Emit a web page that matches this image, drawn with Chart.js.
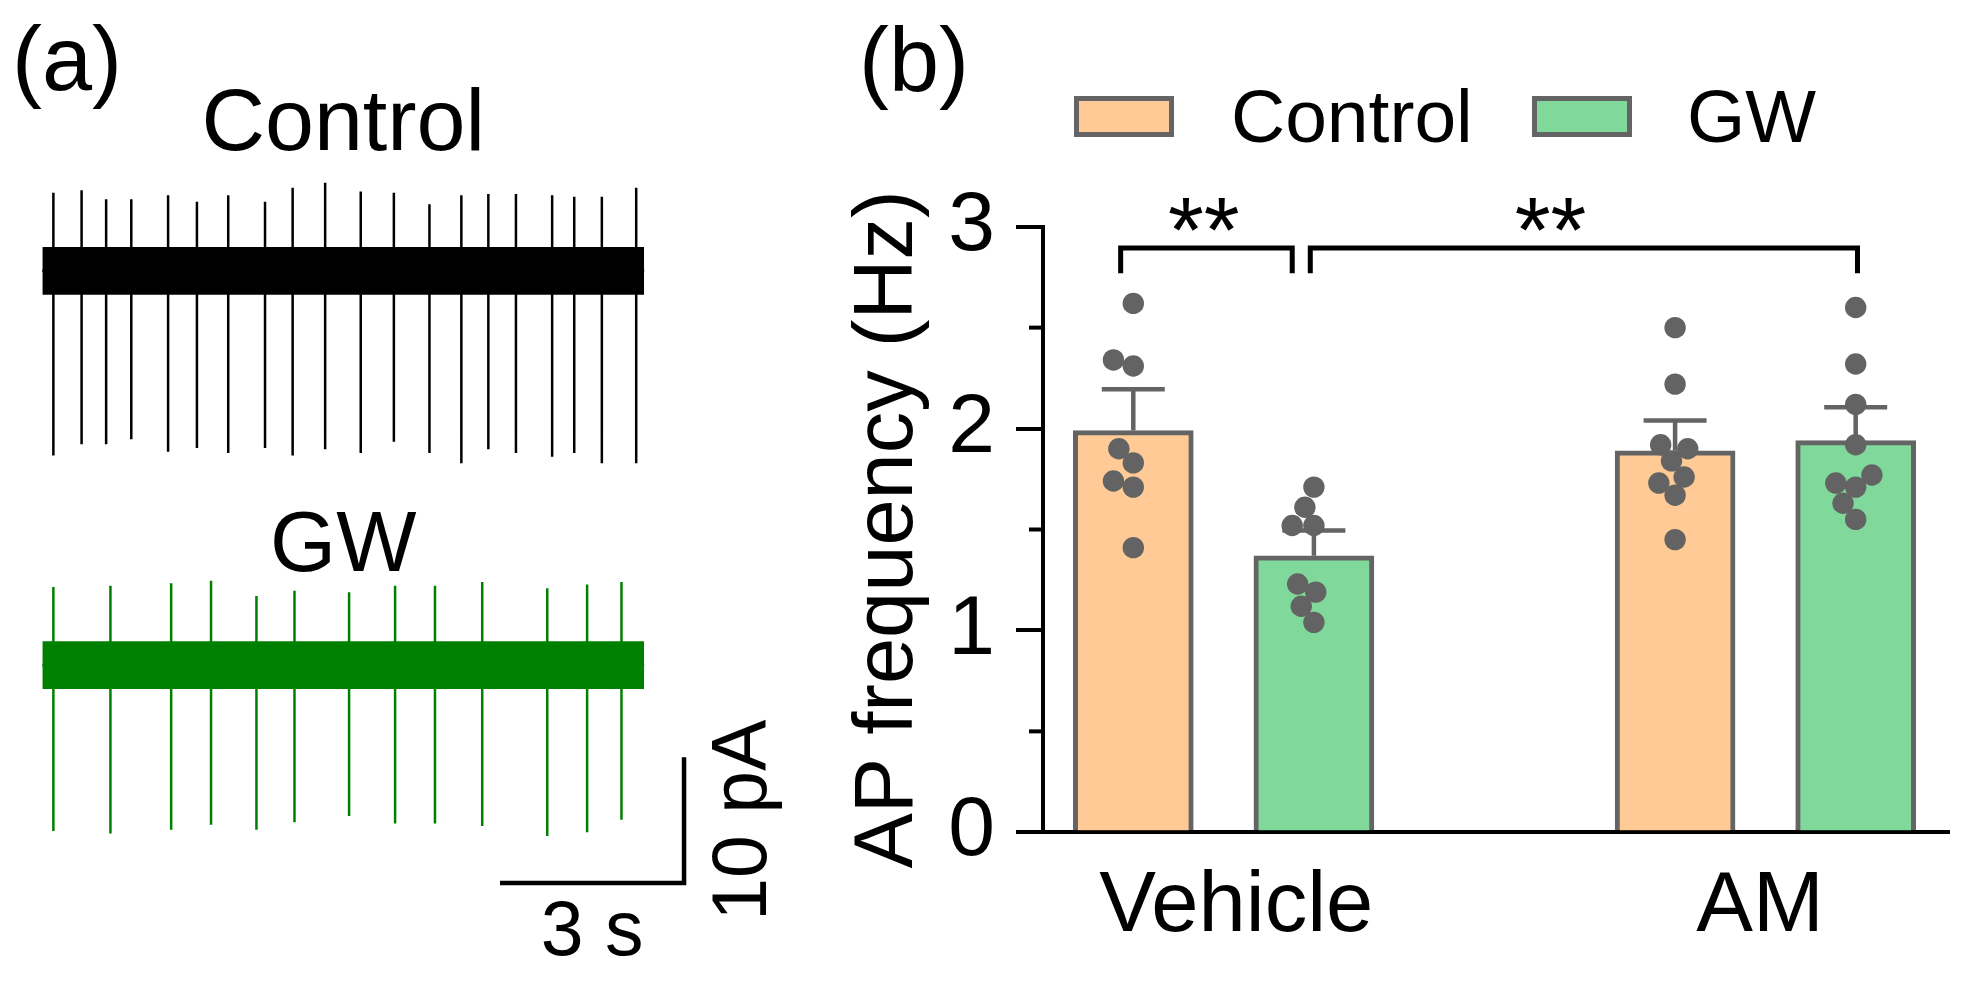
<!DOCTYPE html>
<html>
<head>
<meta charset="utf-8">
<script src="https://cdn.jsdelivr.net/npm/chart.js@4.4.0/dist/chart.umd.min.js"></script>
<style>
  html, body { margin:0; padding:0; background:#fff; }
  #wrap { position:relative; width:1964px; height:995px; overflow:hidden; }
  canvas { position:absolute; }
</style>
</head>
<body>
<div id="wrap">
  <canvas id="ctrl" width="800" height="480" style="left:0;top:0;width:800px;height:480px"></canvas>
  <canvas id="gw" width="800" height="515" style="left:0;top:480px;width:800px;height:515px"></canvas>
  <canvas id="bars" width="1164" height="995" style="left:800px;top:0;width:1164px;height:995px"></canvas>
</div>
<script>
'use strict';

/* ---- panel (a): spike trains (s, pA) ---- */
const TRACE_LEN = 9.81;
const NOISE_PA  = 1.9;   // half height of the noise band

const CTRL_SPIKE_T   = [0.18,0.64,1.04,1.45,2.05,2.52,3.03,3.63,4.08,4.61,5.19,5.73,6.31,6.83,7.27,7.72,8.31,8.67,9.12,9.68];
const CTRL_SPIKE_TOP = [6.2,6.4,5.7,5.7,6.0,5.5,6.0,5.5,6.6,7.0,6.3,6.2,5.3,6.0,6.1,6.1,6.0,5.9,5.9,6.6];
const CTRL_SPIKE_BOT = [-14.7,-13.8,-13.8,-13.4,-14.4,-14.1,-14.5,-14.1,-14.7,-14.2,-14.5,-13.6,-14.5,-15.3,-14.2,-14.5,-14.8,-14.5,-15.3,-15.3];

const GW_SPIKE_T   = [0.18,1.11,2.10,2.75,3.49,4.11,5.00,5.75,6.40,7.17,8.23,8.88,9.44];
const GW_SPIKE_TOP = [6.2,6.3,6.5,6.7,5.5,5.9,5.8,6.3,6.3,6.6,6.1,6.4,6.6];
const GW_SPIKE_BOT = [-13.2,-13.4,-13.1,-12.7,-13.1,-12.5,-12.0,-12.6,-12.6,-12.8,-13.6,-13.3,-12.3];

const SCALE_S  = 3;    // s
const SCALE_PA = 10;   // pA

/* ---- panel (b): AP frequency (Hz) ---- */
const GROUPS  = ['Vehicle', 'AM'];
const SERIES  = ['Control', 'GW'];
const CTRL_X  = [0, 3];
const GW_X    = [1, 4];
const CTRL_MEAN = [1.99, 1.89];
const CTRL_SEM  = [0.205, 0.15];
const GW_MEAN   = [1.37, 1.94];
const GW_SEM    = [0.125, 0.165];

const CTRL_VEH_PTS = [2.62,2.34,2.31,1.90,1.83,1.74,1.71,1.41];
const CTRL_VEH_JIT = [0,-0.11,0,-0.08,0,-0.11,0,0];
const GW_VEH_PTS   = [1.71,1.61,1.52,1.52,1.23,1.19,1.12,1.04];
const GW_VEH_JIT   = [0,-0.05,-0.12,0,-0.09,0.01,-0.07,0];
const CTRL_AM_PTS  = [2.50,2.22,1.92,1.90,1.84,1.76,1.73,1.67,1.45];
const CTRL_AM_JIT  = [0,0,-0.08,0.07,-0.02,0.05,-0.09,0,0];
const GW_AM_PTS    = [2.60,2.32,2.12,1.92,1.77,1.73,1.71,1.63,1.55];
const GW_AM_JIT    = [0,0,0,0,0.09,-0.11,0,-0.07,0];

const SIG = [
  { from:-0.07, to:0.88, at:0.39, text:'**' },
  { from: 0.98, to:4.01, at:2.31, text:'**' },
];
const SIG_Y   = 2.894;
const SIG_LEG = 2.77;

const ORANGE = '#FFCA96';
const GREEN  = '#80D89B';
const EDGE   = '#646464';
const FONT   = '"Liberation Sans", Arial, sans-serif';

Chart.defaults.font.family = FONT;
Chart.defaults.color = '#000';

/* ================= panel (a) ================= */

function spikeTrain(ts, tops, bots) {
  const pts = [{ x:0, y:0 }];
  ts.forEach((t, i) => {
    pts.push({ x:t, y:0 }, { x:t, y:tops[i] }, { x:t, y:bots[i] }, { x:t, y:0 });
  });
  pts.push({ x:TRACE_LEN, y:0 });
  return pts;
}

function traceSets(ts, tops, bots, colour) {
  return [
    { data:[{ x:0, y:NOISE_PA }, { x:TRACE_LEN, y:NOISE_PA }], fill:{ value:-NOISE_PA },
      backgroundColor:colour, borderWidth:0, pointRadius:0 },
    { data:spikeTrain(ts, tops, bots), borderColor:colour, borderWidth:2.5,
      borderJoinStyle:'bevel', pointRadius:0, tension:0, fill:false },
  ];
}

function traceOpts(yMin, yMax) {
  return {
    responsive:false, animation:false, devicePixelRatio:1, events:[],
    layout:{ padding:0 },
    plugins:{ legend:{ display:false }, tooltip:{ enabled:false } },
    scales:{
      x:{ type:'linear', min:-0.69, max:12.35, display:false },
      y:{ type:'linear', min:yMin, max:yMax, display:false },
    },
  };
}

const ctrlText = {
  id:'ctrlText',
  afterDraw(chart) {
    const { ctx, scales:{ x } } = chart;
    ctx.save();
    ctx.fillStyle = '#000';
    ctx.textBaseline = 'alphabetic';
    ctx.font = `90px ${FONT}`;
    ctx.textAlign = 'left';
    ctx.fillText('(a)', 12, 90);
    ctx.font = `88px ${FONT}`;
    ctx.textAlign = 'center';
    ctx.fillText('Control', x.getPixelForValue(TRACE_LEN / 2), 150);
    ctx.restore();
  }
};

new Chart(document.getElementById('ctrl'), {
  type:'line',
  data:{ datasets:traceSets(CTRL_SPIKE_T, CTRL_SPIKE_TOP, CTRL_SPIKE_BOT, '#000') },
  options:traceOpts(-16.64, 21.54),
  plugins:[ctrlText],
});

const barX0 = 7.46, barY0 = -17.34;   // corner of the scale bar
const gwText = {
  id:'gwText',
  afterDraw(chart) {
    const { ctx, scales:{ x, y } } = chart;
    ctx.save();
    ctx.fillStyle = '#000';
    ctx.textBaseline = 'alphabetic';
    ctx.font = `85px ${FONT}`;
    ctx.textAlign = 'center';
    ctx.fillText('GW', x.getPixelForValue(TRACE_LEN / 2), 91);

    ctx.font = `77px ${FONT}`;
    const bx = x.getPixelForValue(barX0 + SCALE_S / 2);
    const by = y.getPixelForValue(barY0);
    ctx.fillText(SCALE_S + ' s', bx, by + 72);

    const vx = x.getPixelForValue(barX0 + SCALE_S);
    const vy = y.getPixelForValue(barY0 + SCALE_PA / 2);
    ctx.translate(vx + 82, vy);
    ctx.rotate(-Math.PI / 2);
    ctx.fillText(SCALE_PA + ' pA', 0, 0);
    ctx.restore();
  }
};

new Chart(document.getElementById('gw'), {
  type:'line',
  data:{ datasets:[
    ...traceSets(GW_SPIKE_T, GW_SPIKE_TOP, GW_SPIKE_BOT, '#008000'),
    { data:[{ x:barX0, y:barY0 }, { x:barX0 + SCALE_S, y:barY0 }, { x:barX0 + SCALE_S, y:barY0 + SCALE_PA }],
      borderColor:'#000', borderWidth:4.5, borderJoinStyle:'miter', pointRadius:0, fill:false },
  ] },
  options:traceOpts(-26.25, 14.72),
  plugins:[gwText],
});

/* ================= panel (b) ================= */

function dots(base, pts, jit) {
  return pts.map((v, i) => ({ x:base + jit[i], y:v }));
}

const errorBars = {
  id:'errorBars',
  afterDatasetDraw(chart, args) {
    const ds = chart.data.datasets[args.index];
    if (!ds.sem) return;
    const { ctx, scales:{ x, y } } = chart;
    ctx.save();
    ctx.strokeStyle = EDGE;
    ctx.lineWidth = 4.5;
    ds.data.forEach((p, i) => {
      const px = x.getPixelForValue(p.x);
      const base = y.getPixelForValue(p.y);
      const top = y.getPixelForValue(p.y + ds.sem[i]);
      ctx.beginPath();
      ctx.moveTo(px, base); ctx.lineTo(px, top);
      ctx.moveTo(px - 31.5, top); ctx.lineTo(px + 31.5, top);
      ctx.stroke();
    });
    ctx.restore();
  }
};

const extras = {
  id:'extras',
  afterDraw(chart) {
    const { ctx, chartArea, scales:{ x, y } } = chart;
    ctx.save();

    // minor y ticks
    ctx.strokeStyle = '#000';
    ctx.lineWidth = 4;
    [0.5, 1.5, 2.5].forEach(v => {
      const py = y.getPixelForValue(v);
      ctx.beginPath(); ctx.moveTo(chartArea.left - 14, py); ctx.lineTo(chartArea.left, py); ctx.stroke();
    });

    // significance brackets
    ctx.lineWidth = 5;
    const yl = y.getPixelForValue(SIG_Y), yb = y.getPixelForValue(SIG_LEG);
    ctx.font = `92px ${FONT}`;
    ctx.textAlign = 'center';
    ctx.textBaseline = 'alphabetic';
    ctx.fillStyle = '#000';
    SIG.forEach(s => {
      const x1 = x.getPixelForValue(s.from), x2 = x.getPixelForValue(s.to);
      ctx.beginPath();
      ctx.moveTo(x1, yb); ctx.lineTo(x1, yl); ctx.lineTo(x2, yl); ctx.lineTo(x2, yb);
      ctx.stroke();
      ctx.fillText(s.text, x.getPixelForValue(s.at), yl + 14);
    });

    // legend
    ctx.font = `75px ${FONT}`;
    ctx.textAlign = 'left';
    const items = [
      { box:274, text:431, ds:chart.data.datasets[0] },
      { box:732, text:887, ds:chart.data.datasets[1] },
    ];
    items.forEach(it => {
      ctx.fillStyle = it.ds.backgroundColor;
      ctx.fillRect(it.box, 96, 100, 41);
      ctx.strokeStyle = EDGE;
      ctx.lineWidth = 5;
      ctx.strokeRect(it.box + 2.5, 98.5, 95, 36);
      ctx.fillStyle = '#000';
      ctx.fillText(it.ds.label, it.text, 142);
    });

    // panel label
    ctx.font = `90px ${FONT}`;
    ctx.fillText('(b)', 59, 91);
    ctx.restore();
  }
};

new Chart(document.getElementById('bars'), {
  type:'bar',
  data:{
    datasets:[
      { label:SERIES[0], data:CTRL_X.map((x, i) => ({ x, y:CTRL_MEAN[i] })), sem:CTRL_SEM,
        backgroundColor:ORANGE, borderColor:EDGE, borderWidth:5, borderSkipped:'start',
        barThickness:120, grouped:false, order:2 },
      { label:SERIES[1], data:GW_X.map((x, i) => ({ x, y:GW_MEAN[i] })), sem:GW_SEM,
        backgroundColor:GREEN, borderColor:EDGE, borderWidth:5, borderSkipped:'start',
        barThickness:120, grouped:false, order:2 },
      { type:'scatter', label:'cells', order:1,
        data:[
          ...dots(CTRL_X[0], CTRL_VEH_PTS, CTRL_VEH_JIT),
          ...dots(GW_X[0],   GW_VEH_PTS,   GW_VEH_JIT),
          ...dots(CTRL_X[1], CTRL_AM_PTS,  CTRL_AM_JIT),
          ...dots(GW_X[1],   GW_AM_PTS,    GW_AM_JIT),
        ],
        pointRadius:10.7, backgroundColor:'#636363', borderWidth:0 },
    ]
  },
  options:{
    responsive:false, animation:false, devicePixelRatio:1, events:[],
    layout:{ padding:{ left:0, right:14.4, top:226.7, bottom:22.7 } },
    plugins:{ legend:{ display:false }, tooltip:{ enabled:false } },
    scales:{
      x:{
        type:'linear', min:-0.5, max:4.52, offset:false,
        grid:{ display:true, drawOnChartArea:false, drawTicks:false, offset:false },
        border:{ display:true, color:'#000', width:4 },
        afterBuildTicks: s => { s.ticks = [{ value:0.57 }, { value:3.47 }]; },
        afterFit: s => { s.height = 140; },
        ticks:{ autoSkip:false, maxRotation:0, padding:24, font:{ size:85 }, color:'#000',
                callback:(v, i) => GROUPS[i] },
      },
      y:{
        min:0, max:3,
        grid:{ drawOnChartArea:false, drawTicks:true, tickLength:27, color:'#000', lineWidth:4 },
        border:{ display:true, color:'#000', width:4 },
        afterFit: s => { s.width = 243; },
        ticks:{ stepSize:1, padding:21, font:{ size:84 }, color:'#000' },
        title:{ display:true, text:'AP frequency (Hz)', font:{ size:83 }, color:'#000', padding:{ top:39, bottom:0 } },
      },
    },
  },
  plugins:[errorBars, extras],
});
</script>
</body>
</html>
